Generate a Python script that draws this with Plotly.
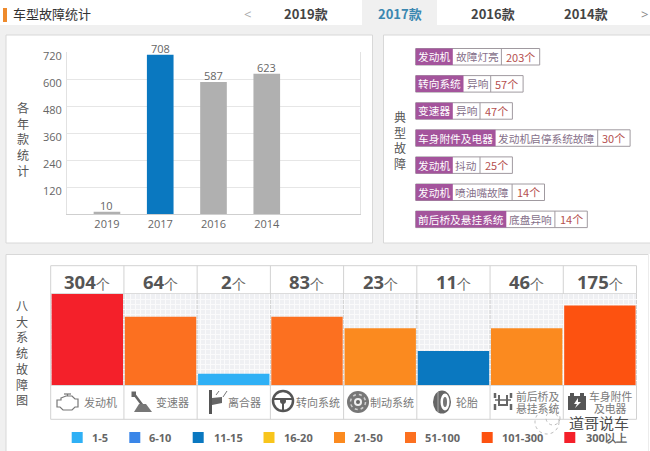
import plotly.graph_objects as go
from bisect import bisect_left

W, H = 650, 451
CJK = "Noto Sans CJK SC"
LATIN = "Open Sans"

# ---- data ----
model_years = ["2019", "2017", "2016", "2014"]
year_counts = [10, 708, 587, 623]
year_colors = ["#b0b0b0", "#0a78c0", "#b0b0b0", "#b0b0b0"]
y_ticks = [120, 240, 360, 480, 600, 720]
tabs = ["2019款", "2017款", "2016款", "2014款"]

fault_systems = ["发动机", "转向系统", "变速器", "车身附件及电器", "发动机", "发动机", "前后桥及悬挂系统"]
fault_names = ["故障灯亮", "异响", "异响", "发动机启停系统故障", "抖动", "喷油嘴故障", "底盘异响"]
fault_counts = [203, 57, 47, 30, 25, 14, 14]

systems = ["发动机", "变速器", "离合器", "转向系统", "制动系统", "轮胎", "前后桥及|悬挂系统", "车身附件|及电器"]
system_counts = [304, 64, 2, 83, 23, 11, 46, 175]

bin_labels = ["1-5", "6-10", "11-15", "16-20", "21-50", "51-100", "101-300", "300以上"]
bin_upper = [5, 10, 15, 20, 50, 100, 300]
bin_colors = ["#2fb0f5", "#3a86e8", "#0a78c0", "#f8c51c", "#fb8a1f", "#fc7020", "#fd5210", "#f4202a"]

system_levels = [bisect_left(bin_upper, c) + 1 for c in system_counts]
system_colors = [bin_colors[l - 1] for l in system_levels]


# ---- pixel helpers ----
def px(x):
    return x / W


def py(y):
    return 1 - y / H


shapes, notes = [], []


def rect(x0, y0, x1, y1, fill=None, line=None, lw=1):
    shapes.append(dict(type="rect", xref="paper", yref="paper", layer="below",
                       x0=px(x0), x1=px(x1), y0=py(y0), y1=py(y1),
                       fillcolor=fill or "rgba(0,0,0,0)",
                       line=dict(color=line or "rgba(0,0,0,0)", width=lw if line else 0)))


def seg(x0, y0, x1, y1, color="#d5d5d5", lw=1, layer="below"):
    shapes.append(dict(type="line", xref="paper", yref="paper", layer=layer,
                       x0=px(x0), x1=px(x1), y0=py(y0), y1=py(y1),
                       line=dict(color=color, width=lw)))


def ell(cx, cy, rx, ry=None, fill=None, line=None, lw=1, dash="solid", layer="below"):
    ry = rx if ry is None else ry
    shapes.append(dict(type="circle", xref="paper", yref="paper", layer=layer,
                       x0=px(cx - rx), x1=px(cx + rx), y0=py(cy + ry), y1=py(cy - ry),
                       fillcolor=fill or "rgba(0,0,0,0)",
                       line=dict(color=line or "rgba(0,0,0,0)", width=lw if line else 0, dash=dash)))


def poly(pts, fill=None, line=None, lw=1, close=True):
    d = "M " + " L ".join(f"{px(a):.5f},{py(b):.5f}" for a, b in pts) + (" Z" if close else "")
    shapes.append(dict(type="path", xref="paper", yref="paper", layer="below", path=d,
                       fillcolor=fill or "rgba(0,0,0,0)",
                       line=dict(color=line or "rgba(0,0,0,0)", width=lw if line else 0)))


def text(x, y, s, size=12, color="#555", font=CJK, anchor="center"):
    notes.append(dict(xref="paper", yref="paper", x=px(x), y=py(y), text=s, showarrow=False,
                      xanchor=anchor, yanchor="middle", align="center",
                      font=dict(family=font, size=size, color=color)))


# ---- page frame ----
rect(0, 0, 650, 25, fill="#ffffff")
rect(362, 0, 437, 26, fill="#f0f0f0")
rect(3, 8, 7, 22, fill="#ee8a2c")
text(11, 14, "车型故障统计", 13, "#333", anchor="left")
text(247, 14, "&lt;", 13, "#aaa", LATIN)
text(644, 14, "&gt;", 13, "#888", LATIN)
for cx, t, c in zip([306, 400, 492.5, 586], tabs, ["#444", "#3b87b0", "#444", "#444"]):
    text(cx, 14, f"<b>{t}</b>", 13, c)

rect(6, 35, 372.5, 243, fill="#ffffff", line="#d8d8d8")
rect(383.5, 35, 652, 243, fill="#ffffff", line="#d8d8d8")
rect(6, 254.5, 648.5, 453, fill="#ffffff", line="#d8d8d8")
rect(648.5, 254, 650, 451, fill="#ffffff")


def vertical(x, yc, s):
    text(x, yc, "<br>".join(s), 12.1, "#555")


vertical(22.5, 138.5, "各年款统计")
vertical(400, 140, "典型故障")
vertical(22, 352.5, "八大系统故障图")

# ---- typical faults tags ----
for i, (a, b, n) in enumerate(zip(fault_systems, fault_names, fault_counts)):
    top, bot = 48.5 + 27.1 * i, 65 + 27.1 * i
    mid = (top + bot) / 2
    x0 = 415.7
    x1 = x0 + 10.7 * len(a) + 5
    x2 = x1 + 10.7 * len(b) + 5.8
    x3 = x2 + (38.3 if n >= 100 else 32.4)
    rect(x0, top, x3, bot, fill="#ffffff", line="#a09aa0")
    rect(x0, top, x1, bot, fill="#a4549c")
    seg(x2, top, x2, bot, "#a09aa0")
    text((x0 + x1) / 2, mid, a, 10.7, "#ffffff")
    text((x1 + x2) / 2, mid, b, 10.7, "#86708a")
    text((x2 + x3) / 2, mid, f"{n}个", 11, "#b5504f")

# ---- eight systems table ----
T_L, T_R = 50.7, 636.5
C_W = (T_R - T_L) / 8
rect(T_L, 294, T_R, 385, fill="#eff0f3")
rect(T_L, 265.7, T_R, 419.3, line="#d2d2d2")
seg(T_L, 293.5, T_R, 293.5, "#dcdcdc")
seg(T_L, 385.5, T_R, 385.5, "#dcdcdc")
for i in range(1, 8):
    seg(T_L + i * C_W, 265.7, T_L + i * C_W, 419.3, "#d2d2d2")

for i, n in enumerate(system_counts):
    text(T_L + (i + 0.5) * C_W, 281,
         f"<b>{n}</b><span style='font-size:14px;color:#666'>个</span>", 18.5, "#555", LATIN)

for cx, s in zip([100, 172, 244, 318, 392, 467, 537.5, 610.5], systems):
    parts = s.split("|")
    if len(parts) == 1:
        text(cx, 401.5, s, 11, "#7a7a7a")
    else:
        text(cx, 396, parts[0], 10.8, "#7a7a7a")
        text(cx, 407.5, parts[1], 10.8, "#7a7a7a")

# icons
G = "#666666"
poly([(61, 398), (66, 396), (72, 396), (75, 399), (78, 399), (78, 407), (75, 407), (72, 410),
      (63, 410), (60, 407), (57, 407), (57, 400), (61, 400)], line="#777", lw=1.2)
seg(64, 394, 71, 394, "#777", 1.2)
seg(67.5, 394, 67.5, 396, "#777", 1.2)
seg(134, 394, 143, 406, G, 2.5)
rect(131.5, 391.5, 136, 397, fill=G)
poly([(139, 404), (146, 404), (152, 412), (134, 412)], fill="#777")
rect(209, 390, 212, 414, fill="#555")
poly([(212, 398), (222, 397), (222, 403), (212, 405)], fill="#666")
seg(223, 397, 227, 391, "#777", 1)
seg(216, 395, 219, 391, "#777", 1)
ell(283, 401, 10, line="#555", lw=2.5)
ell(283, 401, 3, fill="#555")
seg(274, 399, 292, 399, "#555", 2)
seg(283, 401, 283, 410, "#555", 2)
ell(358, 402, 11, fill="#777")
ell(358, 402, 7.5, line="#cfcfcf", lw=1.5, dash="dot")
ell(358, 402, 4, fill="#f0f0f0")
ell(358, 402, 2, fill="#666")
ell(442, 402, 9, 11.5, fill="#666")
ell(445, 402, 4.5, 8.5, fill="#ffffff")
ell(445, 402, 2, 5, fill="#777")
seg(438, 392, 438, 412, "#aaa", 1)
for a, b in [((495, 393), (495, 398)), ((495, 404), (495, 410)), ((511, 393), (511, 398)), ((511, 404), (511, 410))]:
    seg(a[0], a[1], b[0], b[1], G, 2.5)
poly([(499, 395), (499, 405), (507, 405), (507, 395)], line=G, lw=2, close=False)
seg(495, 400, 511, 400, G, 1.5)
rect(568, 396, 586, 410, fill="#555")
rect(570, 393, 574, 396, fill="#555")
rect(580, 393, 584, 396, fill="#555")
poly([(578, 398), (574, 404), (577, 404), (575, 408), (581, 402), (578, 402)], fill="#ffffff")

# legend of bins
for sx, tx, lab, col in zip([71.7, 129.3, 192.7, 263.5, 334, 405, 481.7, 564.3],
                            [90, 147, 212, 282, 352, 423, 500, 584], bin_labels, bin_colors):
    rect(sx, 432, sx + 11, 443, fill=col)
    text(tx, 437.7, f"<b>{lab}</b>", 11, "#666", LATIN, anchor="left")

# watermark
ell(547, 422, 12, line="#bbbbbb", lw=1, dash="dot", layer="above")
ell(553, 418, 7, line="#bbbbbb", lw=1, dash="dot", layer="above")
text(598.5, 422, "道哥说车", 15, "#4d4d4d")

# value labels on the year bars, tied to the data axes
for k, v in enumerate(year_counts):
    notes.append(dict(xref="x", yref="y", x=k, y=v, yshift=6.5, text=str(v), showarrow=False,
                      xanchor="center", yanchor="middle",
                      font=dict(family=LATIN, size=11, color="#666")))

# ---- traces ----
fig = go.Figure()
fig.add_trace(go.Bar(x=model_years, y=year_counts, marker=dict(color=year_colors, line=dict(width=0)),
                     width=0.5, cliponaxis=False, xaxis="x", yaxis="y", hoverinfo="x+y"))
fig.add_trace(go.Bar(x=list(range(len(systems))), y=system_levels,
                     marker=dict(color=system_colors, line=dict(width=0)), width=0.975,
                     xaxis="x2", yaxis="y2", hoverinfo="skip"))

fig.update_layout(
    width=W, height=H, margin=dict(l=0, r=0, t=0, b=0, autoexpand=False), autosize=False, showlegend=False,
    paper_bgcolor="#f0f0f0", plot_bgcolor="rgba(0,0,0,0)",
    font=dict(family=LATIN, color="#666"), shapes=shapes, annotations=notes,
    xaxis=dict(domain=[px(67), px(360)], type="category", categoryorder="array", categoryarray=model_years,
               range=[-0.75, 4.75], showgrid=False, showline=True, linecolor="#cfcfcf", ticks="",
               ticklabelstandoff=0,
               tickfont=dict(family=LATIN, size=11, color="#666"), anchor="y"),
    yaxis=dict(domain=[py(214), py(52)], range=[0, 720], tickvals=y_ticks, gridcolor="#e6e6e6",
               showline=True, linecolor="#e2e2e2", mirror=True, zeroline=False, ticks="",
               ticklabelshift=4, ticklabelstandoff=2,
               tickfont=dict(family=LATIN, size=11, color="#666"), anchor="x"),
    xaxis2=dict(domain=[px(T_L), px(T_R)], range=[-0.5, 7.5], tick0=-0.5, dtick=0.068, showgrid=True,
                gridcolor="#fafafb", gridwidth=1, showticklabels=False, zeroline=False, ticks="", anchor="y2"),
    yaxis2=dict(domain=[py(385), py(294)], range=[0, 8], tick0=0, dtick=0.44, showgrid=True,
                gridcolor="#fafafb", gridwidth=1, showticklabels=False, zeroline=False, ticks="", anchor="x2"),
)

fig.write_html("out.html", config=dict(displayModeBar=False),
               post_script=("document.documentElement.style.margin='0';document.body.style.margin='0';"
                            "document.body.style.overflow='hidden';"
                            "var g=document.querySelector('.plotly-graph-div');"
                            "g.style.position='fixed';g.style.top='0';g.style.left='0';"))
